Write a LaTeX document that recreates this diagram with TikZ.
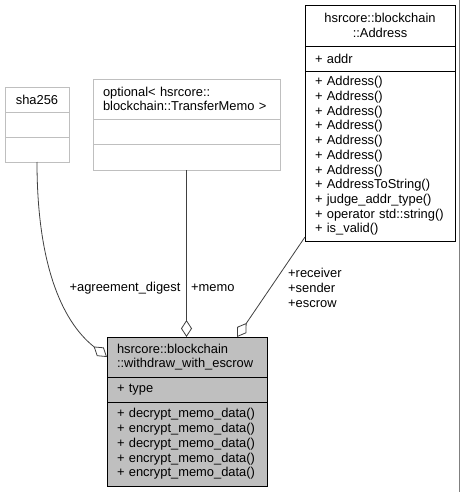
\documentclass[tikz,border=0pt]{standalone}
\usepackage{fontspec}
\setmainfont{Liberation Sans}
\usepackage{xcolor}
\usetikzlibrary{positioning, arrows.meta}
\definecolor{edgegray}{HTML}{404040}
\definecolor{undocgray}{HTML}{BFBFBF}
\newcommand{\umlfont}{\fontsize{12.9}{14.7}\selectfont}
\tikzset{
  classbox/.style={rectangle, draw=black, fill=white, outer sep=0pt,
                   inner xsep=10pt, inner ysep=2pt, font=\umlfont,
                   line width=0.9pt},
  boxtitle/.style={classbox, align=center},
  boxbody/.style={classbox, align=left},
  undoc/.style={draw=undocgray},
  current/.style={fill=undocgray},
  assoc/.style={draw=edgegray, line width=0.8pt,
                -{Diamond[fill=white, length=17pt, width=11pt]}},
  lbl/.style={font=\umlfont, inner sep=0pt, align=left}
}

\begin{document}
\begin{tikzpicture}[x=1pt, y=-1pt]
    \useasboundingbox (0,0) rectangle (461,492);

    % sha256
    \node[boxtitle, undoc, anchor=north west, text width=44pt, minimum height=25pt] (shatitle) at (5,87) {sha256};
    \node[boxbody, undoc, below=0pt of shatitle, text width=44pt, minimum height=25pt] (shaattr) {};
    \node[boxbody, undoc, below=0pt of shaattr, text width=44pt, minimum height=25pt] (shameth) {};

    % optional< TransferMemo >
    \node[boxbody, undoc, anchor=north west, text width=167pt, minimum height=40pt] (opttitle) at (93,79) {optional< hsrcore::\\blockchain::TransferMemo >};
    \node[boxbody, undoc, below=0pt of opttitle, text width=167pt, minimum height=25pt] (optattr) {};
    \node[boxbody, undoc, below=0pt of optattr, text width=167pt, minimum height=26pt] (optmeth) {};

    % Address
    \node[boxtitle, anchor=north west, text width=130pt, minimum height=41pt] (addrtitle) at (305,5) {hsrcore::blockchain\\::Address};
    \node[boxbody, below=0pt of addrtitle, text width=130pt, minimum height=25pt] (addrattr) {+ addr};
    \node[boxbody, below=0pt of addrattr, text width=130pt, minimum height=170pt] (addrmeth) {+ Address()\\+ Address()\\+ Address()\\+ Address()\\+ Address()\\+ Address()\\+ Address()\\+ AddressToString()\\+ judge\_addr\_type()\\+ operator std::string()\\+ is\_valid()};

    % withdraw_with_escrow
    \node[boxbody, current, anchor=north west, text width=140pt, minimum height=40pt] (maintitle) at (107,337) {hsrcore::blockchain\\::withdraw\_with\_escrow};
    \node[boxbody, current, below=0pt of maintitle, text width=140pt, minimum height=25pt] (mainattr) {+ type};
    \node[boxbody, current, below=0pt of mainattr, text width=140pt, minimum height=84pt] (mainmeth) {+ decrypt\_memo\_data()\\+ encrypt\_memo\_data()\\+ decrypt\_memo\_data()\\+ encrypt\_memo\_data()\\+ encrypt\_memo\_data()};

    % associations
    \draw[assoc] (shameth.south) .. controls +(0,98) and +(-47,-37) .. (maintitle.west);
    \draw[assoc] (optmeth.south) -- (optmeth.south |- maintitle.north);
    \draw[assoc] ([yshift=4pt]addrmeth.south west) -- ([xshift=-30pt]maintitle.north east);

    \node[lbl] (agreelbl) at (125,288) {+agreement\_digest};
    \node[lbl, anchor=west] (memolbl) at (191,288) {+memo};
    \node[lbl, anchor=west] (addrlbl) at (288,288) {+receiver\\+sender\\+escrow};

    % right frame edge
    \draw[gray, line width=1pt] (459.5,0) -- (459.5,492);
\end{tikzpicture}
\end{document}
